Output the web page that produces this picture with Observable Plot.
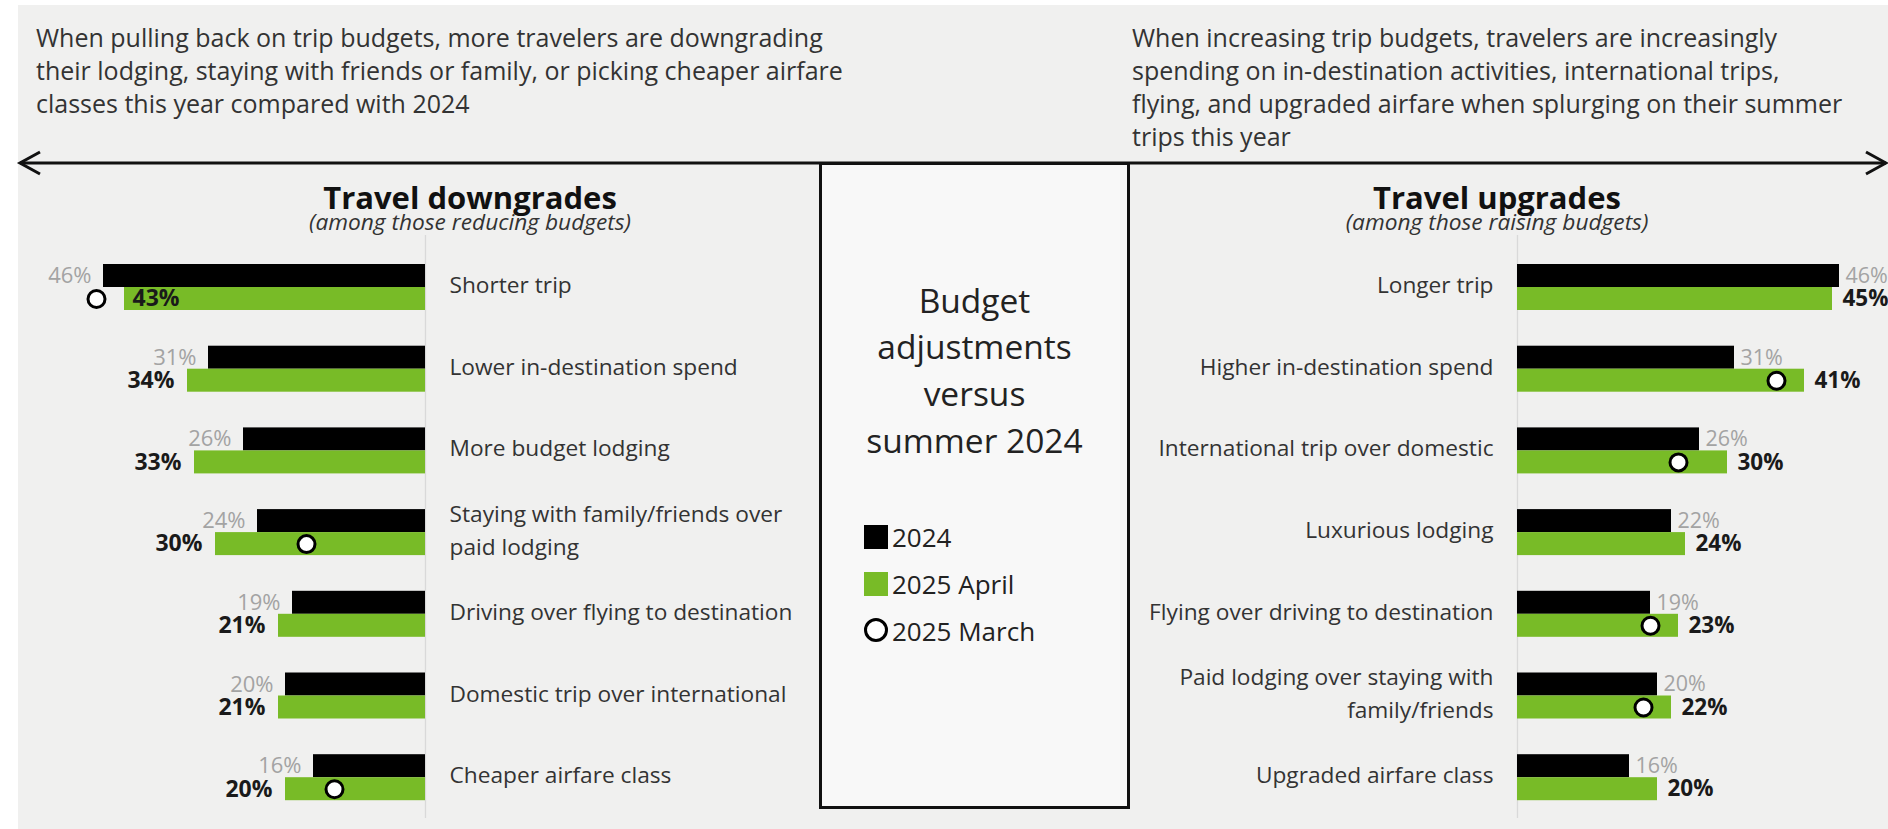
<!DOCTYPE html>
<html><head><meta charset="utf-8">
<script src="https://cdn.jsdelivr.net/npm/d3@7"></script>
<script src="https://cdn.jsdelivr.net/npm/@observablehq/plot@0.6"></script>
<style>
html,body{margin:0;padding:0;overflow:hidden;background:#fff;}
#root{position:relative;width:1888px;height:829px;font-family:"Open Sans",sans-serif;color:#333;overflow:hidden;}
.abs{position:absolute;}
#panel{left:18px;top:5px;right:0;bottom:0;background:#f0f0ef;}
.para{font-size:25px;line-height:33px;white-space:nowrap;color:#333;}
.ttl{font-size:31px;line-height:31px;font-weight:700;color:#111;text-align:center;white-space:nowrap;}
.sub{font-size:22.7px;line-height:22.7px;font-style:italic;color:#333;text-align:center;white-space:nowrap;}
#box{left:819px;top:162px;width:311px;height:647px;box-sizing:border-box;border:3px solid #111;background:#f8f8f8;}
#boxtitle{left:819px;top:276.6px;width:311px;text-align:center;font-size:33.5px;line-height:46.7px;color:#222;}
.lg{font-size:26px;line-height:26px;color:#222;white-space:nowrap;}
</style></head>
<body>
<div id="root">
  <div class="abs" id="panel"></div>
  <div class="abs para" style="left:36px;top:21px;">When pulling back on trip budgets, more travelers are downgrading<br>their lodging, staying with friends or family, or picking cheaper airfare<br>classes this year compared with 2024</div>
  <div class="abs para" style="left:1132px;top:21px;">When increasing trip budgets, travelers are increasingly<br>spending on in-destination activities, international trips,<br>flying, and upgraded airfare when splurging on their summer<br>trips this year</div>
  <svg class="abs" style="left:0;top:0" width="1888" height="829">
    <line x1="20" y1="163" x2="1886" y2="163" stroke="#111" stroke-width="3"/>
    <path d="M40,152 L20,163 L40,174" fill="none" stroke="#111" stroke-width="3"/>
    <path d="M1866,152 L1886,163 L1866,174" fill="none" stroke="#111" stroke-width="3"/>
  </svg>
  <div class="abs" id="box"></div>
  <div class="abs" id="boxtitle">Budget<br>adjustments<br>versus<br>summer 2024</div>
  <div class="abs ttl" style="left:270px;width:400px;top:182px;">Travel downgrades</div>
  <div class="abs sub" style="left:270px;width:400px;top:211px;">(among those reducing budgets)</div>
  <div class="abs ttl" style="left:1297px;width:400px;top:182px;">Travel upgrades</div>
  <div class="abs sub" style="left:1297px;width:400px;top:211px;">(among those raising budgets)</div>
  <div id="legend"></div>
  <div class="abs" id="leftChart" style="left:0;top:0;"></div>
  <div class="abs" id="rightChart" style="left:1130px;top:0;"></div>
</div>
<script>
// ---- data ----
const downCats = ["Shorter trip", "Lower in-destination spend", "More budget lodging",
  "Staying with family/friends over\npaid lodging", "Driving over flying to destination",
  "Domestic trip over international", "Cheaper airfare class"];
const down2024 = [46, 31, 26, 24, 19, 20, 16];
const downApr2025 = [43, 34, 33, 30, 21, 21, 20];
const downMar2025 = [47, null, null, 17, null, null, 13];

const upCats = ["Longer trip", "Higher in-destination spend", "International trip over domestic",
  "Luxurious lodging", "Flying over driving to destination",
  "Paid lodging over staying with\nfamily/friends", "Upgraded airfare class"];
const up2024 = [46, 31, 26, 22, 19, 20, 16];
const upApr2025 = [45, 41, 30, 24, 23, 22, 20];
const upMar2025 = [null, 37, 23, null, 19, 18, null];

const legendLabels = ["2024", "2025 April", "2025 March"];

const GREEN = "#78bb27";
const FONT = '"Open Sans", sans-serif';

function panel(cats, a24, aApr, aMar, side) {
  const rows = cats.map((c, i) => ({cat: c, v24: a24[i], apr: aApr[i], mar: aMar[i]}));
  const L = side === "left";
  const x0 = L ? 425 : 387;
  const sgn = L ? -1 : 1;
  const inside = d => d.mar != null && d.mar > d.apr;
  return Plot.plot({
    width: L ? 819 : 758,
    height: 829,
    margin: 0,
    style: {background: "transparent", overflow: "visible", fontFamily: FONT},
    x: {domain: [0, 50], range: [x0, x0 + sgn * 350], axis: null},
    y: {domain: cats, range: [246.15, 818.05], paddingInner: 0.437, paddingOuter: 0.2185, round: false, axis: null},
    marks: [
      Plot.ruleX([0], {stroke: "#d9d9d9", strokeWidth: 1.3, insetTop: 235, insetBottom: 11}),
      Plot.barX(rows, {x: "v24", y: "cat", fill: "#000", insetBottom: 23}),
      Plot.barX(rows, {x: "apr", y: "cat", fill: GREEN, insetTop: 23}),
      Plot.dot(rows.filter(d => d.mar != null), {x: "mar", y: "cat", dy: 11.5, r: 8.5, fill: "#fff", stroke: "#000", strokeWidth: 3}),
      Plot.text(rows, {x: "v24", y: "cat", text: d => d.v24 + "%", dy: -11.5, dx: sgn * (L ? 12 : 6),
        textAnchor: L ? "end" : "start", fill: "#a3a3a3", fontSize: L ? 22 : 21.5}),
      Plot.text(rows.filter(d => !inside(d)), {x: "apr", y: "cat", text: d => d.apr + "%", dy: 11.5, dx: sgn * (L ? 13 : 10),
        textAnchor: L ? "end" : "start", fill: "#1a1a1a", fontWeight: "bold", fontSize: L ? 23 : 22.5}),
      Plot.text(rows.filter(inside), {x: "apr", y: "cat", text: d => d.apr + "%", dy: 11.5, dx: -sgn * 8,
        textAnchor: L ? "start" : "end", fill: "#1a1a1a", fontWeight: "bold", fontSize: 23}),
      Plot.text(rows, {x: () => 0, y: "cat", text: "cat", dx: -sgn * 24, dy: -5, textAnchor: L ? "start" : "end",
        fill: "#333", fontSize: 22.7, lineHeight: 1.45})
    ]
  });
}

document.getElementById("leftChart").appendChild(panel(downCats, down2024, downApr2025, downMar2025, "left"));
document.getElementById("rightChart").appendChild(panel(upCats, up2024, upApr2025, upMar2025, "right"));

// legend
const lg = document.getElementById("legend");
const swatches = [
  '<span style="display:inline-block;width:24px;height:24px;background:#000"></span>',
  '<span style="display:inline-block;width:24px;height:24px;background:' + GREEN + '"></span>',
  '<svg width="26" height="26" style="display:block"><circle cx="13" cy="13" r="10.5" fill="#fff" stroke="#000" stroke-width="3"/></svg>'
];
const swTops = [525, 572, 617];
const txtTops = [524, 571, 618];
legendLabels.forEach((t, i) => {
  const s = document.createElement("div");
  s.className = "abs";
  s.style.left = (i === 2 ? 863 : 864) + "px";
  s.style.top = swTops[i] + "px";
  s.style.lineHeight = "0";
  s.innerHTML = swatches[i];
  lg.appendChild(s);
  const d = document.createElement("div");
  d.className = "abs lg";
  d.style.left = "892px";
  d.style.top = txtTops[i] + "px";
  d.textContent = t;
  lg.appendChild(d);
});
</script>
</body></html>
